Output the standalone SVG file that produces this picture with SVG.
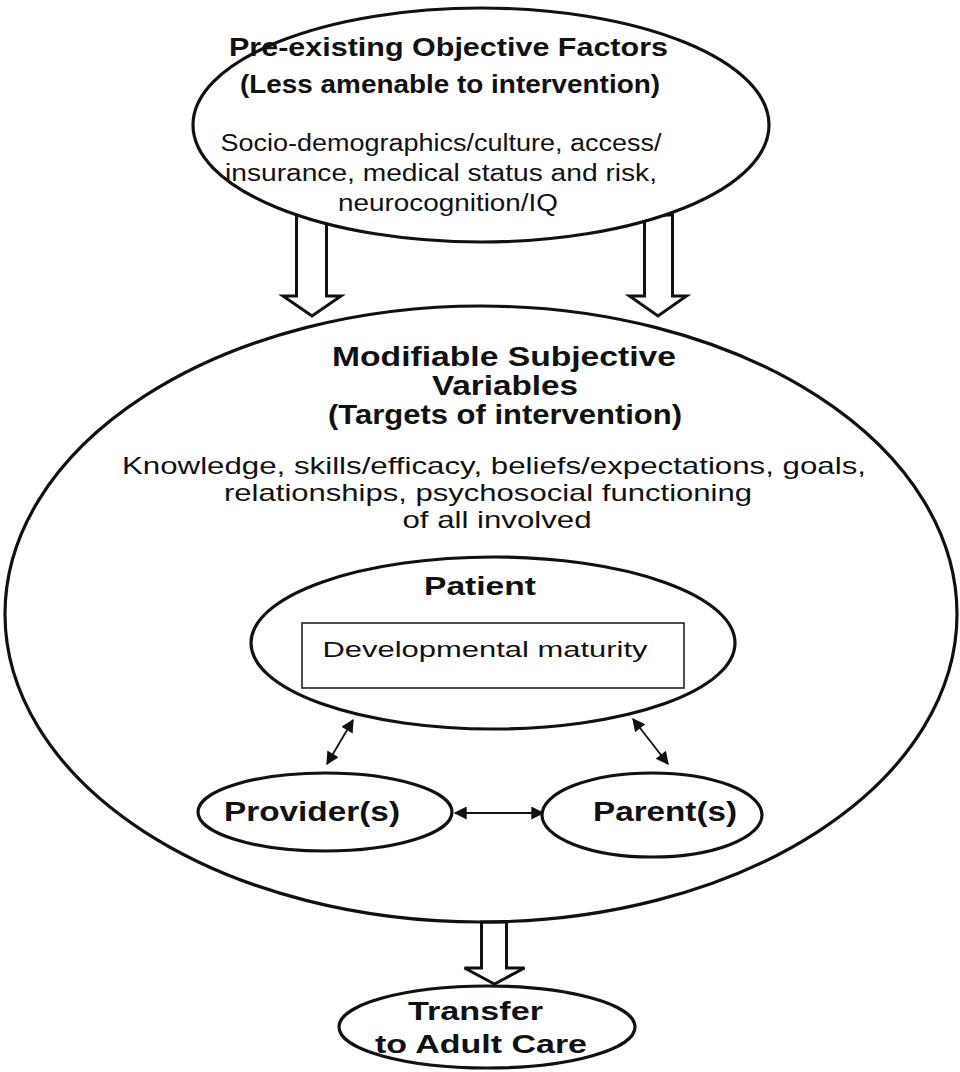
<svg xmlns="http://www.w3.org/2000/svg" width="960" height="1072" viewBox="0 0 960 1072">
<style>
.shape{fill:#fff;stroke:#111;stroke-width:3.2}
.block{fill:#fff;stroke:#111;stroke-width:3;stroke-linejoin:miter}
.box{fill:none;stroke:#222;stroke-width:1.6}
.thin{stroke:#111;stroke-width:1.8;fill:none}
.b{font-family:"Liberation Sans",Arial,sans-serif;font-weight:bold;fill:#111;text-anchor:middle}
.r{font-family:"Liberation Sans",Arial,sans-serif;fill:#111;text-anchor:middle}
.nb{font-family:"Liberation Sans Narrow","Liberation Sans",Arial,sans-serif;font-weight:bold;fill:#111;text-anchor:middle}
.nr{font-family:"Liberation Sans Narrow","Liberation Sans",Arial,sans-serif;fill:#111;text-anchor:middle}
</style>
<defs>
<marker id="ahs" viewBox="0 0 10 10" refX="9" refY="5" markerWidth="16" markerHeight="13" markerUnits="userSpaceOnUse" orient="auto-start-reverse">
<path d="M0,0 L10,5 L0,10 z" fill="#111"/>
</marker>
</defs>
<g id="connectors">
<polygon class="block" points="296.5,215 326.5,215 326.5,296 341,296 312,316 283,296 296.5,296"/>
<polygon class="block" points="644.5,215 672.5,215 672.5,296 686.5,296 658,316 629.5,296 644.5,296"/>
<polygon class="block" points="481.5,922 506.5,922 506.5,968 524.5,968 494.5,984 464.5,968 481.5,968"/>
<line class="thin" x1="353" y1="720" x2="327" y2="764" marker-start="url(#ahs)" marker-end="url(#ahs)"/>
<line class="thin" x1="633" y1="719" x2="668" y2="764" marker-start="url(#ahs)" marker-end="url(#ahs)"/>
<line class="thin" x1="455" y1="813" x2="543" y2="813" marker-start="url(#ahs)" marker-end="url(#ahs)"/>
</g>
<g id="pre-existing">
<ellipse class="shape" cx="481" cy="125" rx="288" ry="117"/>
<text class="b" x="448.5" y="56" font-size="25" textLength="439" lengthAdjust="spacingAndGlyphs">Pre-existing Objective Factors</text>
<text class="b" x="450" y="93" font-size="25" textLength="420" lengthAdjust="spacingAndGlyphs">(Less amenable to intervention)</text>
<text class="r" x="441" y="151" font-size="23" textLength="441" lengthAdjust="spacingAndGlyphs">Socio-demographics/culture, access/</text>
<text class="r" x="441" y="181" font-size="23" textLength="432" lengthAdjust="spacingAndGlyphs">insurance, medical status and risk,</text>
<text class="r" x="448" y="211" font-size="23" textLength="220" lengthAdjust="spacingAndGlyphs">neurocognition/IQ</text>
</g>
<g id="modifiable">
<ellipse class="shape" cx="481" cy="614" rx="476" ry="308" style="fill:none"/>
<text class="nb" x="504" y="366" font-size="27" textLength="344" lengthAdjust="spacingAndGlyphs">Modifiable Subjective</text>
<text class="nb" x="505" y="395" font-size="27" textLength="146" lengthAdjust="spacingAndGlyphs">Variables</text>
<text class="nb" x="505" y="424" font-size="27" textLength="354" lengthAdjust="spacingAndGlyphs">(Targets of intervention)</text>
<text class="nr" x="494" y="474" font-size="24" textLength="744" lengthAdjust="spacingAndGlyphs">Knowledge, skills/efficacy, beliefs/expectations, goals,</text>
<text class="nr" x="488" y="501" font-size="24" textLength="528" lengthAdjust="spacingAndGlyphs">relationships, psychosocial functioning</text>
<text class="nr" x="497" y="528" font-size="24" textLength="189" lengthAdjust="spacingAndGlyphs">of all involved</text>
</g>
<g id="patient">
<ellipse class="shape" cx="493" cy="643" rx="242" ry="86" style="fill:none"/>
<text class="b" x="480" y="595" font-size="26" textLength="112" lengthAdjust="spacingAndGlyphs">Patient</text>
<rect class="box" x="302" y="623" width="382" height="65"/>
<text class="r" x="485" y="657" font-size="22" textLength="325" lengthAdjust="spacingAndGlyphs">Developmental maturity</text>
</g>
<g id="provider">
<ellipse class="shape" cx="325" cy="812" rx="127" ry="39"/>
<text class="b" x="312" y="821" font-size="27" textLength="176" lengthAdjust="spacingAndGlyphs">Provider(s)</text>
</g>
<g id="parent">
<ellipse class="shape" cx="652" cy="815" rx="110" ry="42"/>
<text class="b" x="665" y="821" font-size="27" textLength="144" lengthAdjust="spacingAndGlyphs">Parent(s)</text>
</g>
<g id="transfer">
<ellipse class="shape" cx="487" cy="1027" rx="148" ry="41"/>
<text class="b" x="475.5" y="1020" font-size="26" textLength="135" lengthAdjust="spacingAndGlyphs">Transfer</text>
<text class="b" x="481" y="1053" font-size="26" textLength="212" lengthAdjust="spacingAndGlyphs">to Adult Care</text>
</g>
</svg>
